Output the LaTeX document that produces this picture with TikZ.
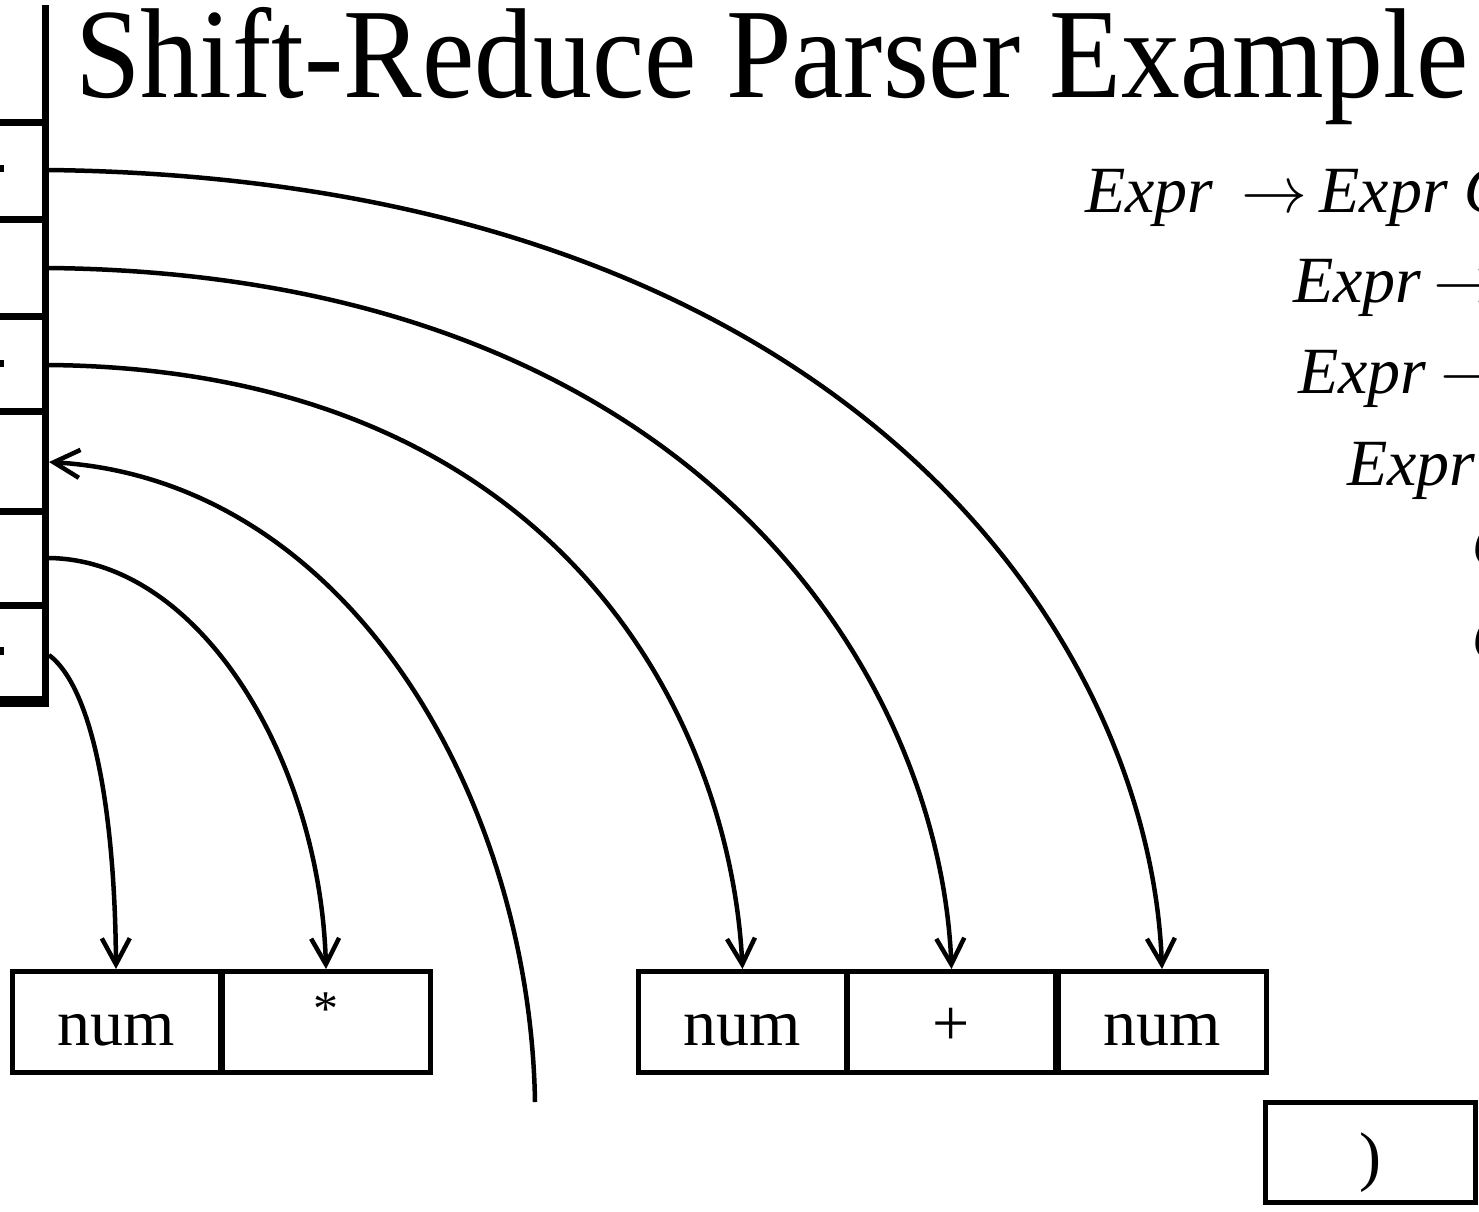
\RequirePackage{fix-cm}
\documentclass[tikz,border=0pt]{standalone}
\usepackage{fontspec}
\setmainfont{Liberation Serif}
\usetikzlibrary{arrows.meta}
\begin{document}
\begin{tikzpicture}[x=1pt,y=-1pt,
  cell/.style={draw,line width=5pt,minimum width=208pt,minimum height=101pt,
    inner sep=0pt,text height=53pt,text depth=7pt,font=\fontsize{66}{70}\selectfont},
  link/.style={line width=4.5pt,-{Straight Barb[length=26pt,width=28pt]}},
  rule/.style={anchor=base west,inner sep=0pt,font=\fontsize{66}{70}\selectfont\itshape},
  stackline/.style={line width=7pt},
]
\useasboundingbox (0,0) rectangle (1479,1211);
\clip (0,0) rectangle (1479,1211);

% title
\node[anchor=base west,inner sep=0pt,font=\fontsize{128}{130}\selectfont] (title) at (75,97)
  {\scalebox{0.92}[1]{Shift-Reduce Parser Example}};

% parse stack on the left edge
\draw[stackline] (45,5) -- (45,706);
\foreach \y in {122,219,316,411,511,605}
  \draw[stackline] (0,\y) -- (45,\y);
\draw[line width=11pt] (0,701) -- (48.5,701);
% tails of the stack entries
\fill (0,165) rectangle (4,172);
\fill (0,360) rectangle (4,367);
\fill (0,647) rectangle (4,655);

\coordinate (s1) at (49,170);
\coordinate (s2) at (49,268);
\coordinate (s3) at (49,365);
\coordinate (s4) at (49,462);
\coordinate (s5) at (49,558);
\coordinate (s6) at (49,655);

% grammar
\node[rule] (r1) at (1085,212) {Expr\hspace{28pt}$\rightarrow$\hspace{12pt}Expr Op};
\node[rule] (r2) at (1293,302) {Expr\hspace{12pt}$\rightarrow$};
\node[rule] (r3) at (1298,393) {Expr\hspace{14pt}$\rightarrow$};
\node[rule] (r4) at (1347,485) {Expr};
\node[rule] (r5) at (1472,567) {Op};
\node[rule] (r6) at (1472,660) {Op};

% token boxes
\node[cell] (num1) at (116,1022) {num};
\node[cell,font=\fontsize{50}{54}\selectfont,text height=33pt,text depth=27pt] (star) at (326,1022) {*};
\node[cell] (num2) at (742.5,1022) {num};
\node[cell] (plus) at (951.5,1022) {+};
\node[cell] (num3) at (1162,1022) {num};
\node[cell,minimum width=210pt,minimum height=100pt,text height=56pt,text depth=4pt] (rpar) at (1370,1152) {)};

% links between stack and tokens
\coordinate (tail) at (535,1102);
\draw[link] (s6) .. controls (95,690) and (115,820) .. (num1.north);
\draw[link] (s5) .. controls (200,560) and (320,760) .. (star.north);
\draw[link] (tail) .. controls (530,800) and (350,480) .. (s4);
\draw[link] (s3) .. controls (560,370) and (730,720) .. (num2.north);
\draw[link] (s2) .. controls (700,275) and (940,680) .. (plus.north);
\draw[link] (s1) .. controls (850,180) and (1150,640) .. (num3.north);
\end{tikzpicture}
\end{document}
